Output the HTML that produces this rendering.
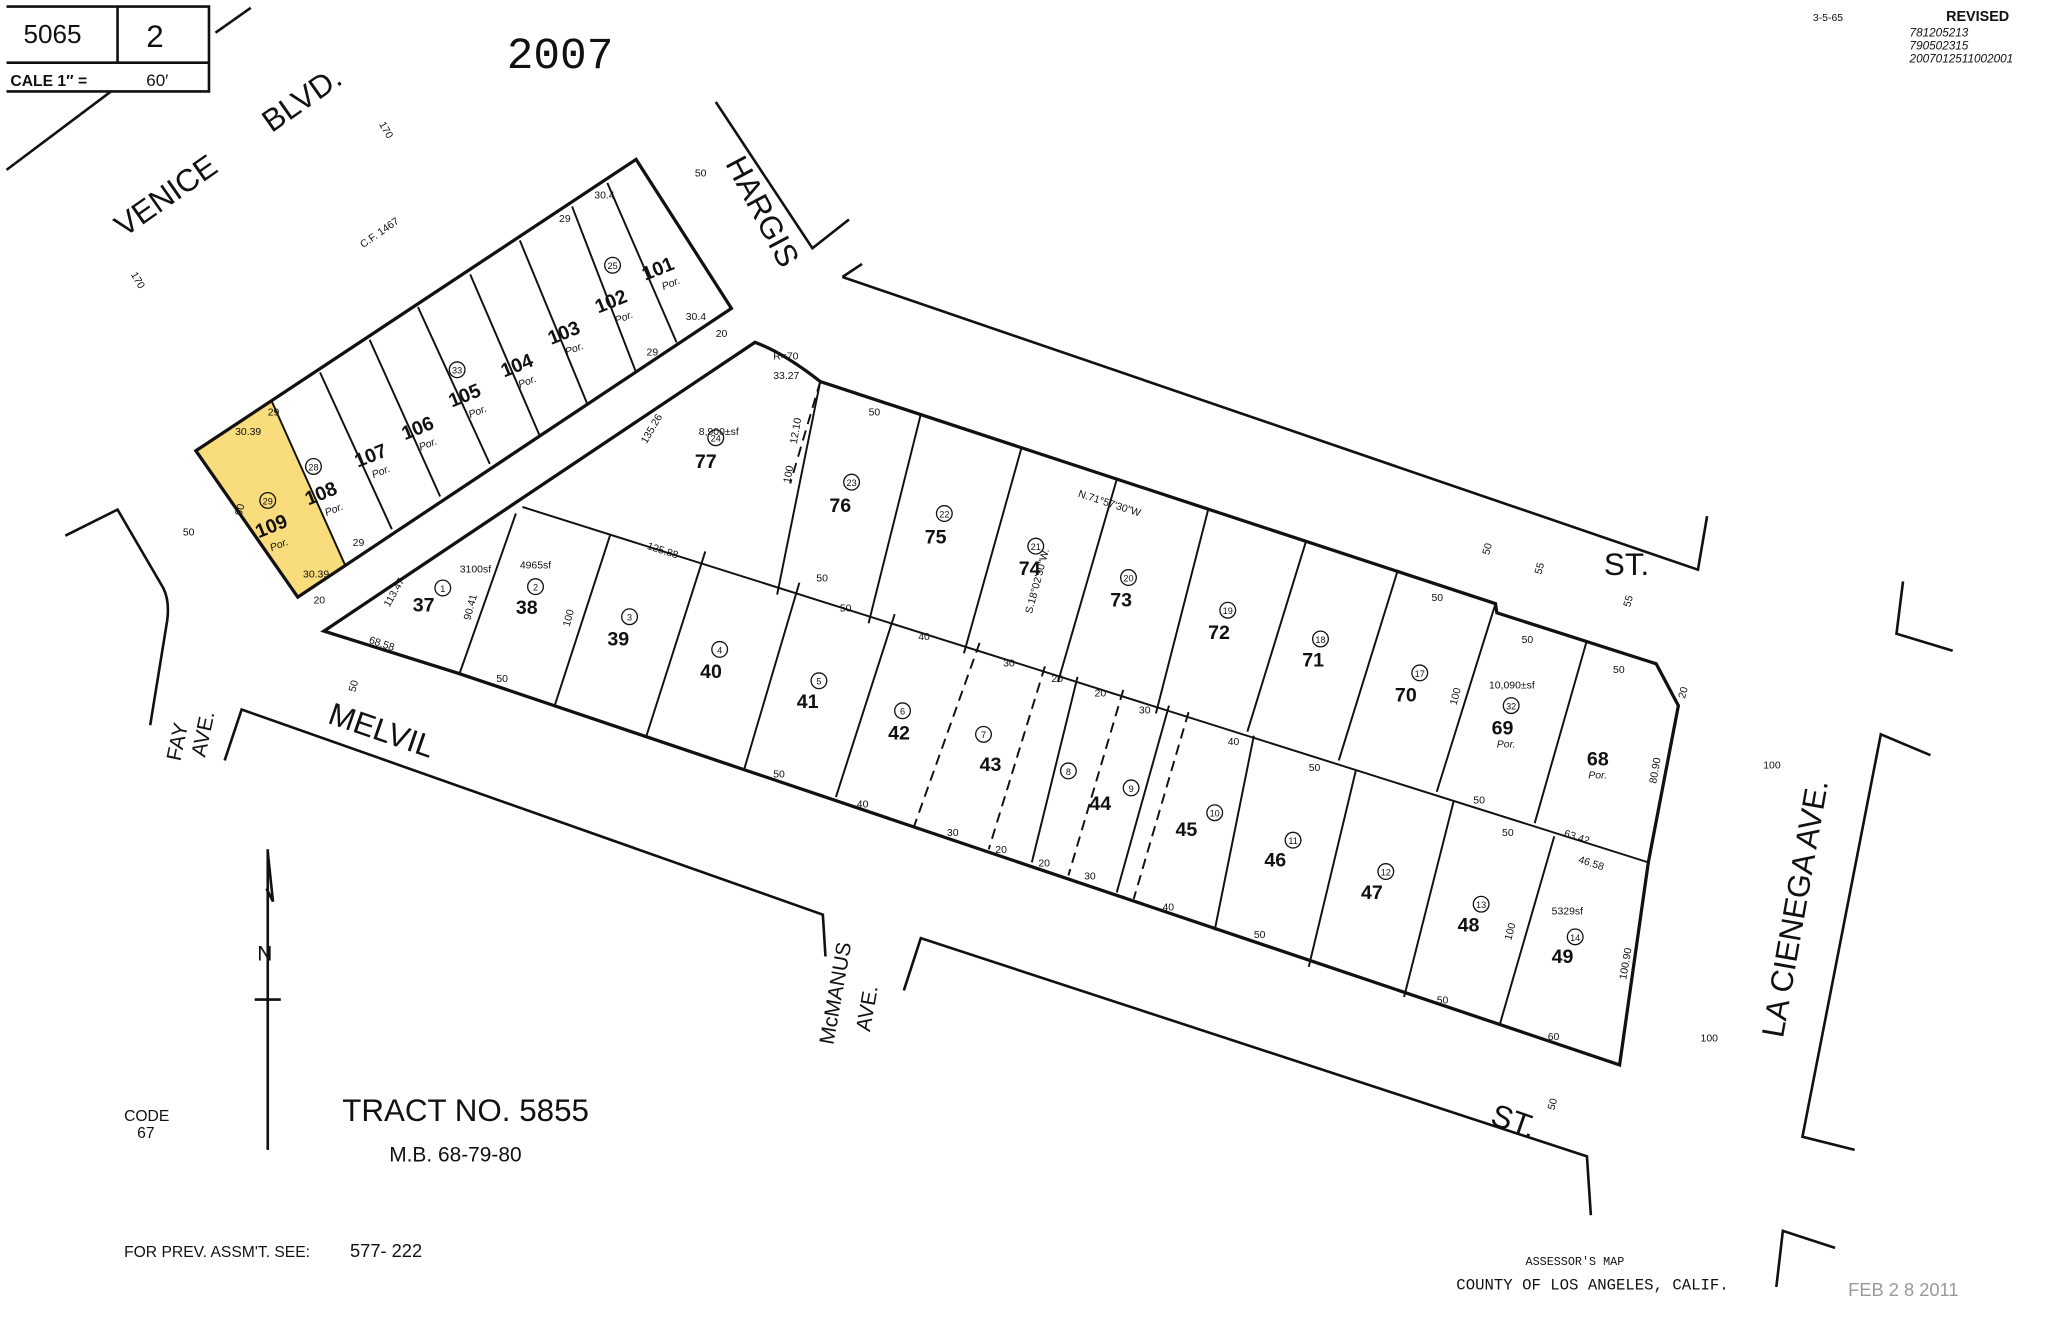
<!DOCTYPE html>
<html><head><meta charset="utf-8"><style>
html,body{margin:0;padding:0;background:#fff}
svg{display:block}
text{font-family:"Liberation Sans",sans-serif;fill:#111}
.b{font-weight:bold;font-size:15px}
.s{font-size:9px;font-style:italic}
.c{font-size:8px}
.p{font-size:8px;font-style:italic}
.st{font-size:24px}
.cn{font-size:7px;text-anchor:middle}
</style></head><body>
<svg width="2048" height="1321" viewBox="0 0 1568 1011" preserveAspectRatio="none" xmlns="http://www.w3.org/2000/svg">
<rect width="1568" height="1011" fill="#fff"/>
<g stroke="#111" stroke-width="2" fill="none">
<polyline points="5,5 160,5 160,70 5,70"/>
<line x1="90" y1="5" x2="90" y2="48"/>
<line x1="5" y1="48" x2="160" y2="48"/>
<line x1="165" y1="25" x2="192" y2="6"/>
<line x1="5" y1="130" x2="85" y2="70"/>
<polyline points="548,78 622,190 650,168"/>
<polyline points="645,212 660,202"/>
<polyline points="645,212 1300,436 1307,395"/>
<polyline points="1457,445 1452,485 1495,498"/>
<polyline points="1478,578 1440,562 1380,870 1420,880"/>
<polyline points="1405,955 1365,942 1360,985"/>
<path d="M50,410 L90,390 L125,450 Q130,460 128,475 L115,555"/>
<polyline points="172,582 185,543 630,700 632,732"/>
<polyline points="692,758 705,718 1215,885 1218,930"/>
<line x1="205" y1="650" x2="205" y2="880"/>
<line x1="195" y1="765" x2="215" y2="765"/>
<path d="M205,652 L209,690 L204,680" />
<polygon points="150,345 487,122 560,236 228,457" fill="#f9dc7c" stroke="none"/>
<polygon points="208,307 487,122 560,236 264,432" fill="#fff" stroke="none"/>
<polygon points="150,345 487,122 560,236 228,457" stroke-width="2.5"/>
<line x1="208" y1="307" x2="264" y2="432" stroke-width="1.5"/>
<line x1="245" y1="285" x2="300" y2="405" stroke-width="1.5"/>
<line x1="283" y1="260" x2="337" y2="380" stroke-width="1.5"/>
<line x1="320" y1="235" x2="375" y2="355" stroke-width="1.5"/>
<line x1="360" y1="210" x2="413" y2="333" stroke-width="1.5"/>
<line x1="398" y1="184" x2="450" y2="310" stroke-width="1.5"/>
<line x1="438" y1="158" x2="487" y2="285" stroke-width="1.5"/>
<line x1="465" y1="140" x2="518" y2="262" stroke-width="1.5"/>
<path d="M248,483 L578,262 Q600,270 628,292 L1145,462 L1146,469 L1268,508 L1285,540 L1262,660 L1240,815 L350,515 Z" stroke-width="2.5"/>
<line x1="400" y1="388" x2="1262" y2="660" stroke-width="1.5"/>
<g stroke-width="1.5">
<line x1="628" y1="292" x2="595" y2="455"/>
<line x1="705" y1="317" x2="665" y2="477"/>
<line x1="782" y1="343" x2="738" y2="500"/>
<line x1="855" y1="367" x2="810" y2="522"/>
<line x1="925" y1="390" x2="885" y2="546"/>
<line x1="1000" y1="414" x2="955" y2="560"/>
<line x1="1070" y1="437" x2="1025" y2="582"/>
<line x1="1145" y1="462" x2="1100" y2="606"/>
<line x1="1215" y1="490" x2="1175" y2="630"/>
<line x1="395" y1="393" x2="352" y2="515"/>
<line x1="467" y1="410" x2="425" y2="539"/>
<line x1="540" y1="422" x2="495" y2="563"/>
<line x1="612" y1="446" x2="570" y2="588"/>
<line x1="685" y1="470" x2="640" y2="610"/>
<line x1="825" y1="518" x2="790" y2="660"/>
<line x1="895" y1="540" x2="855" y2="683"/>
<line x1="960" y1="563" x2="930" y2="712"/>
<line x1="1038" y1="590" x2="1002" y2="740"/>
<line x1="1113" y1="613" x2="1075" y2="763"/>
<line x1="1190" y1="640" x2="1148" y2="785"/>
</g>
<g stroke-width="1.5" stroke-dasharray="8,5">
<line x1="750" y1="492" x2="700" y2="632"/>
<line x1="800" y1="510" x2="757" y2="650"/>
<line x1="860" y1="528" x2="818" y2="670"/>
<line x1="910" y1="545" x2="868" y2="688"/>
<line x1="628" y1="292" x2="605" y2="370"/>
</g>
</g>
<text x="18" y="33" style="font-size:20px">5065</text>
<text x="112" y="36" style="font-size:24px">2</text>
<text x="8" y="66" style="font-size:12px;font-weight:bold">CALE 1″ =</text>
<text x="112" y="66" style="font-size:13px">60′</text>
<text x="388" y="52" style="font-size:34px;font-family:'Liberation Mono',monospace">2007</text>
<text x="1388" y="16" class="c">3-5-65</text>
<text x="1490" y="16" style="font-size:11px;font-weight:bold">REVISED</text>
<text x="1462" y="28" class="s">781205213</text>
<text x="1462" y="38" class="s">790502315</text>
<text x="1462" y="48" class="s">200701251100200​1</text>
<text class="st" transform="translate(95,182) rotate(-35)">VENICE</text>
<text class="st" transform="translate(208,102) rotate(-35)">BLVD.</text>
<text class="st" transform="translate(555,125) rotate(62)">HARGIS</text>
<text class="st" transform="translate(1228,440)">ST.</text>
<text class="st" transform="translate(250,553) rotate(19)">MELVIL</text>
<text class="st" transform="translate(1140,860) rotate(19)">ST.</text>
<text class="st" transform="translate(1365,795) rotate(-80)">LA CIENEGA AVE.</text>
<text style="font-size:16px" transform="translate(138,583) rotate(-78)">FAY</text>
<text style="font-size:16px" transform="translate(157,580) rotate(-78)">AVE.</text>
<text style="font-size:16px" transform="translate(638,800) rotate(-80)">McMANUS</text>
<text style="font-size:16px" transform="translate(666,790) rotate(-80)">AVE.</text>
<text x="197" y="735" style="font-size:16px">N</text>
<text x="262" y="858" style="font-size:24px">TRACT NO. 5855</text>
<text x="298" y="889" style="font-size:16px">M.B.  68-79-80</text>
<text x="95" y="858" style="font-size:12px">CODE</text>
<text x="105" y="871" style="font-size:12px">67</text>
<text x="95" y="962" style="font-size:12px">FOR PREV. ASSM'T. SEE:</text>
<text x="268" y="962" style="font-size:14px">577- 222</text>
<text x="1168" y="968" style="font-size:9px;font-family:'Liberation Mono',monospace">ASSESSOR'S MAP</text>
<text x="1115" y="987" style="font-size:12px;font-family:'Liberation Mono',monospace">COUNTY OF LOS ANGELES, CALIF.</text>
<text x="1415" y="992" style="font-size:14px;fill:#999">FEB 2 8 2011</text>
<g class="b">
<text transform="translate(198,412) rotate(-22)">109</text>
<text transform="translate(236,387) rotate(-22)">108</text>
<text transform="translate(274,358) rotate(-22)">107</text>
<text transform="translate(310,337) rotate(-22)">106</text>
<text transform="translate(346,312) rotate(-22)">105</text>
<text transform="translate(386,289) rotate(-22)">104</text>
<text transform="translate(422,264) rotate(-22)">103</text>
<text transform="translate(458,240) rotate(-22)">102</text>
<text transform="translate(494,215) rotate(-22)">101</text>
<text x="532" y="358">77</text><text x="635" y="392">76</text><text x="708" y="416">75</text>
<text x="780" y="440">74</text><text x="850" y="464">73</text><text x="925" y="489">72</text>
<text x="997" y="510">71</text><text x="1068" y="537">70</text><text x="1142" y="562">69</text>
<text x="1215" y="586">68</text>
<text x="316" y="468">37</text><text x="395" y="470">38</text><text x="465" y="494">39</text>
<text x="536" y="519">40</text><text x="610" y="542">41</text><text x="680" y="566">42</text>
<text x="750" y="590">43</text><text x="834" y="620">44</text><text x="900" y="640">45</text>
<text x="968" y="663">46</text><text x="1042" y="688">47</text><text x="1116" y="713">48</text>
<text x="1188" y="737">49</text>
</g>
<g class="p">
<text transform="translate(208,422) rotate(-22)">Por.</text>
<text transform="translate(250,395) rotate(-22)">Por.</text>
<text transform="translate(286,366) rotate(-22)">Por.</text>
<text transform="translate(322,345) rotate(-22)">Por.</text>
<text transform="translate(360,320) rotate(-22)">Por.</text>
<text transform="translate(398,297) rotate(-22)">Por.</text>
<text transform="translate(434,272) rotate(-22)">Por.</text>
<text transform="translate(472,248) rotate(-22)">Por.</text>
<text transform="translate(508,222) rotate(-22)">Por.</text>
<text x="1146" y="572">Por.</text><text x="1216" y="596">Por.</text>
</g>
<g class="c">
<text x="278" y="190" transform="rotate(-35 278 190)">C.F. 1467</text>
<text x="535" y="333">8,900±sf</text>
<text x="352" y="438">3100sf</text><text x="398" y="435">4965sf</text>
<text x="1140" y="527">10,090±sf</text><text x="1188" y="700">5329sf</text>
<text x="825" y="380" transform="rotate(18 825 380)">N.71°57'30"W</text>
<text x="790" y="470" transform="rotate(-75 790 470)">S.18°02'30"W.</text>
<text x="495" y="420" transform="rotate(18 495 420)">125.88</text>
<text x="495" y="340" transform="rotate(-60 495 340)">135.26</text>
<text x="298" y="465" transform="rotate(-60 298 465)">113.47</text>
<text x="360" y="475" transform="rotate(-75 360 475)">90.41</text>
<text x="282" y="492" transform="rotate(18 282 492)">68.58</text>
<text x="1197" y="640" transform="rotate(18 1197 640)">63.42</text>
<text x="1208" y="660" transform="rotate(18 1208 660)">46.58</text>
<text x="1268" y="600" transform="rotate(-80 1268 600)">80.90</text>
<text x="1245" y="750" transform="rotate(-80 1245 750)">100.90</text>
<text x="592" y="275">R=70</text><text x="592" y="290">33.27</text>
<text x="140" y="410">50</text><text x="1350" y="588">100</text><text x="1302" y="797">100</text>
<text x="1140" y="425" transform="rotate(-75 1140 425)">50</text>
<text x="1180" y="440" transform="rotate(-75 1180 440)">55</text>
<text x="1248" y="465" transform="rotate(-75 1248 465)">55</text>
<text x="1190" y="850" transform="rotate(-75 1190 850)">50</text>
<text x="272" y="530" transform="rotate(-75 272 530)">50</text>
<text x="290" y="95" transform="rotate(60 290 95)">170</text>
<text x="100" y="210" transform="rotate(60 100 210)">170</text>
<text x="532" y="135">50</text>
<text x="380" y="522">50</text><text x="592" y="595">50</text><text x="656" y="618">40</text>
<text x="725" y="640">30</text><text x="762" y="653">20</text><text x="795" y="663">20</text>
<text x="830" y="673">30</text><text x="890" y="697">40</text><text x="960" y="718">50</text>
<text x="1100" y="768">50</text><text x="1185" y="796">60</text>
<text x="625" y="445">50</text><text x="643" y="468">50</text><text x="703" y="490">40</text>
<text x="768" y="510">30</text><text x="805" y="522">20</text><text x="838" y="533">20</text>
<text x="872" y="546">30</text><text x="940" y="570">40</text><text x="1002" y="590">50</text>
<text x="1128" y="615">50</text><text x="1150" y="640">50</text>
<text x="665" y="318">50</text><text x="1096" y="460">50</text><text x="1165" y="492">50</text>
<text x="1235" y="515">50</text>
<text x="180" y="333">30.39</text><text x="232" y="442">30.39</text>
<text x="205" y="318">29</text><text x="270" y="418">29</text>
<text x="455" y="152">30.4</text><text x="525" y="245">30.4</text>
<text x="428" y="170">29</text><text x="495" y="272">29</text>
<text x="240" y="462">20</text><text x="548" y="258">20</text>
<text x="610" y="340" transform="rotate(-80 610 340)">12.10</text>
<text x="605" y="370" transform="rotate(-80 605 370)">100</text>
<text x="436" y="480" transform="rotate(-75 436 480)">100</text>
<text x="1157" y="720" transform="rotate(-75 1157 720)">100</text>
<text x="1115" y="540" transform="rotate(-75 1115 540)">100</text>
<text x="1290" y="535" transform="rotate(-75 1290 535)">20</text>
<text x="185" y="395" transform="rotate(-75 185 395)">90</text>
</g>
<g fill="none" stroke="#111" stroke-width="1">
<circle cx="205" cy="383" r="6"/><circle cx="240" cy="357" r="6"/><circle cx="350" cy="283" r="6"/><circle cx="469" cy="203" r="6"/>
<circle cx="548" cy="335" r="6"/><circle cx="652" cy="369" r="6"/><circle cx="723" cy="393" r="6"/><circle cx="793" cy="418" r="6"/>
<circle cx="864" cy="442" r="6"/><circle cx="940" cy="467" r="6"/><circle cx="1011" cy="489" r="6"/><circle cx="1087" cy="515" r="6"/>
<circle cx="1157" cy="540" r="6"/><circle cx="339" cy="450" r="6"/><circle cx="410" cy="449" r="6"/><circle cx="482" cy="472" r="6"/>
<circle cx="551" cy="497" r="6"/><circle cx="627" cy="521" r="6"/><circle cx="691" cy="544" r="6"/><circle cx="753" cy="562" r="6"/>
<circle cx="818" cy="590" r="6"/><circle cx="866" cy="603" r="6"/><circle cx="930" cy="622" r="6"/><circle cx="990" cy="643" r="6"/>
<circle cx="1061" cy="667" r="6"/><circle cx="1134" cy="692" r="6"/><circle cx="1206" cy="717" r="6"/>
</g>
<g class="cn">
<text x="205" y="386">29</text><text x="240" y="360">28</text><text x="350" y="286">33</text><text x="469" y="206">25</text>
<text x="548" y="338">24</text><text x="652" y="372">23</text><text x="723" y="396">22</text><text x="793" y="421">21</text>
<text x="864" y="445">20</text><text x="940" y="470">19</text><text x="1011" y="492">18</text><text x="1087" y="518">17</text>
<text x="1157" y="543">32</text><text x="339" y="453">1</text><text x="410" y="452">2</text><text x="482" y="475">3</text>
<text x="551" y="500">4</text><text x="627" y="524">5</text><text x="691" y="547">6</text><text x="753" y="565">7</text>
<text x="818" y="593">8</text><text x="866" y="606">9</text><text x="930" y="625">10</text><text x="990" y="646">11</text>
<text x="1061" y="670">12</text><text x="1134" y="695">13</text><text x="1206" y="720">14</text>
</g>
</svg>
</body></html>
